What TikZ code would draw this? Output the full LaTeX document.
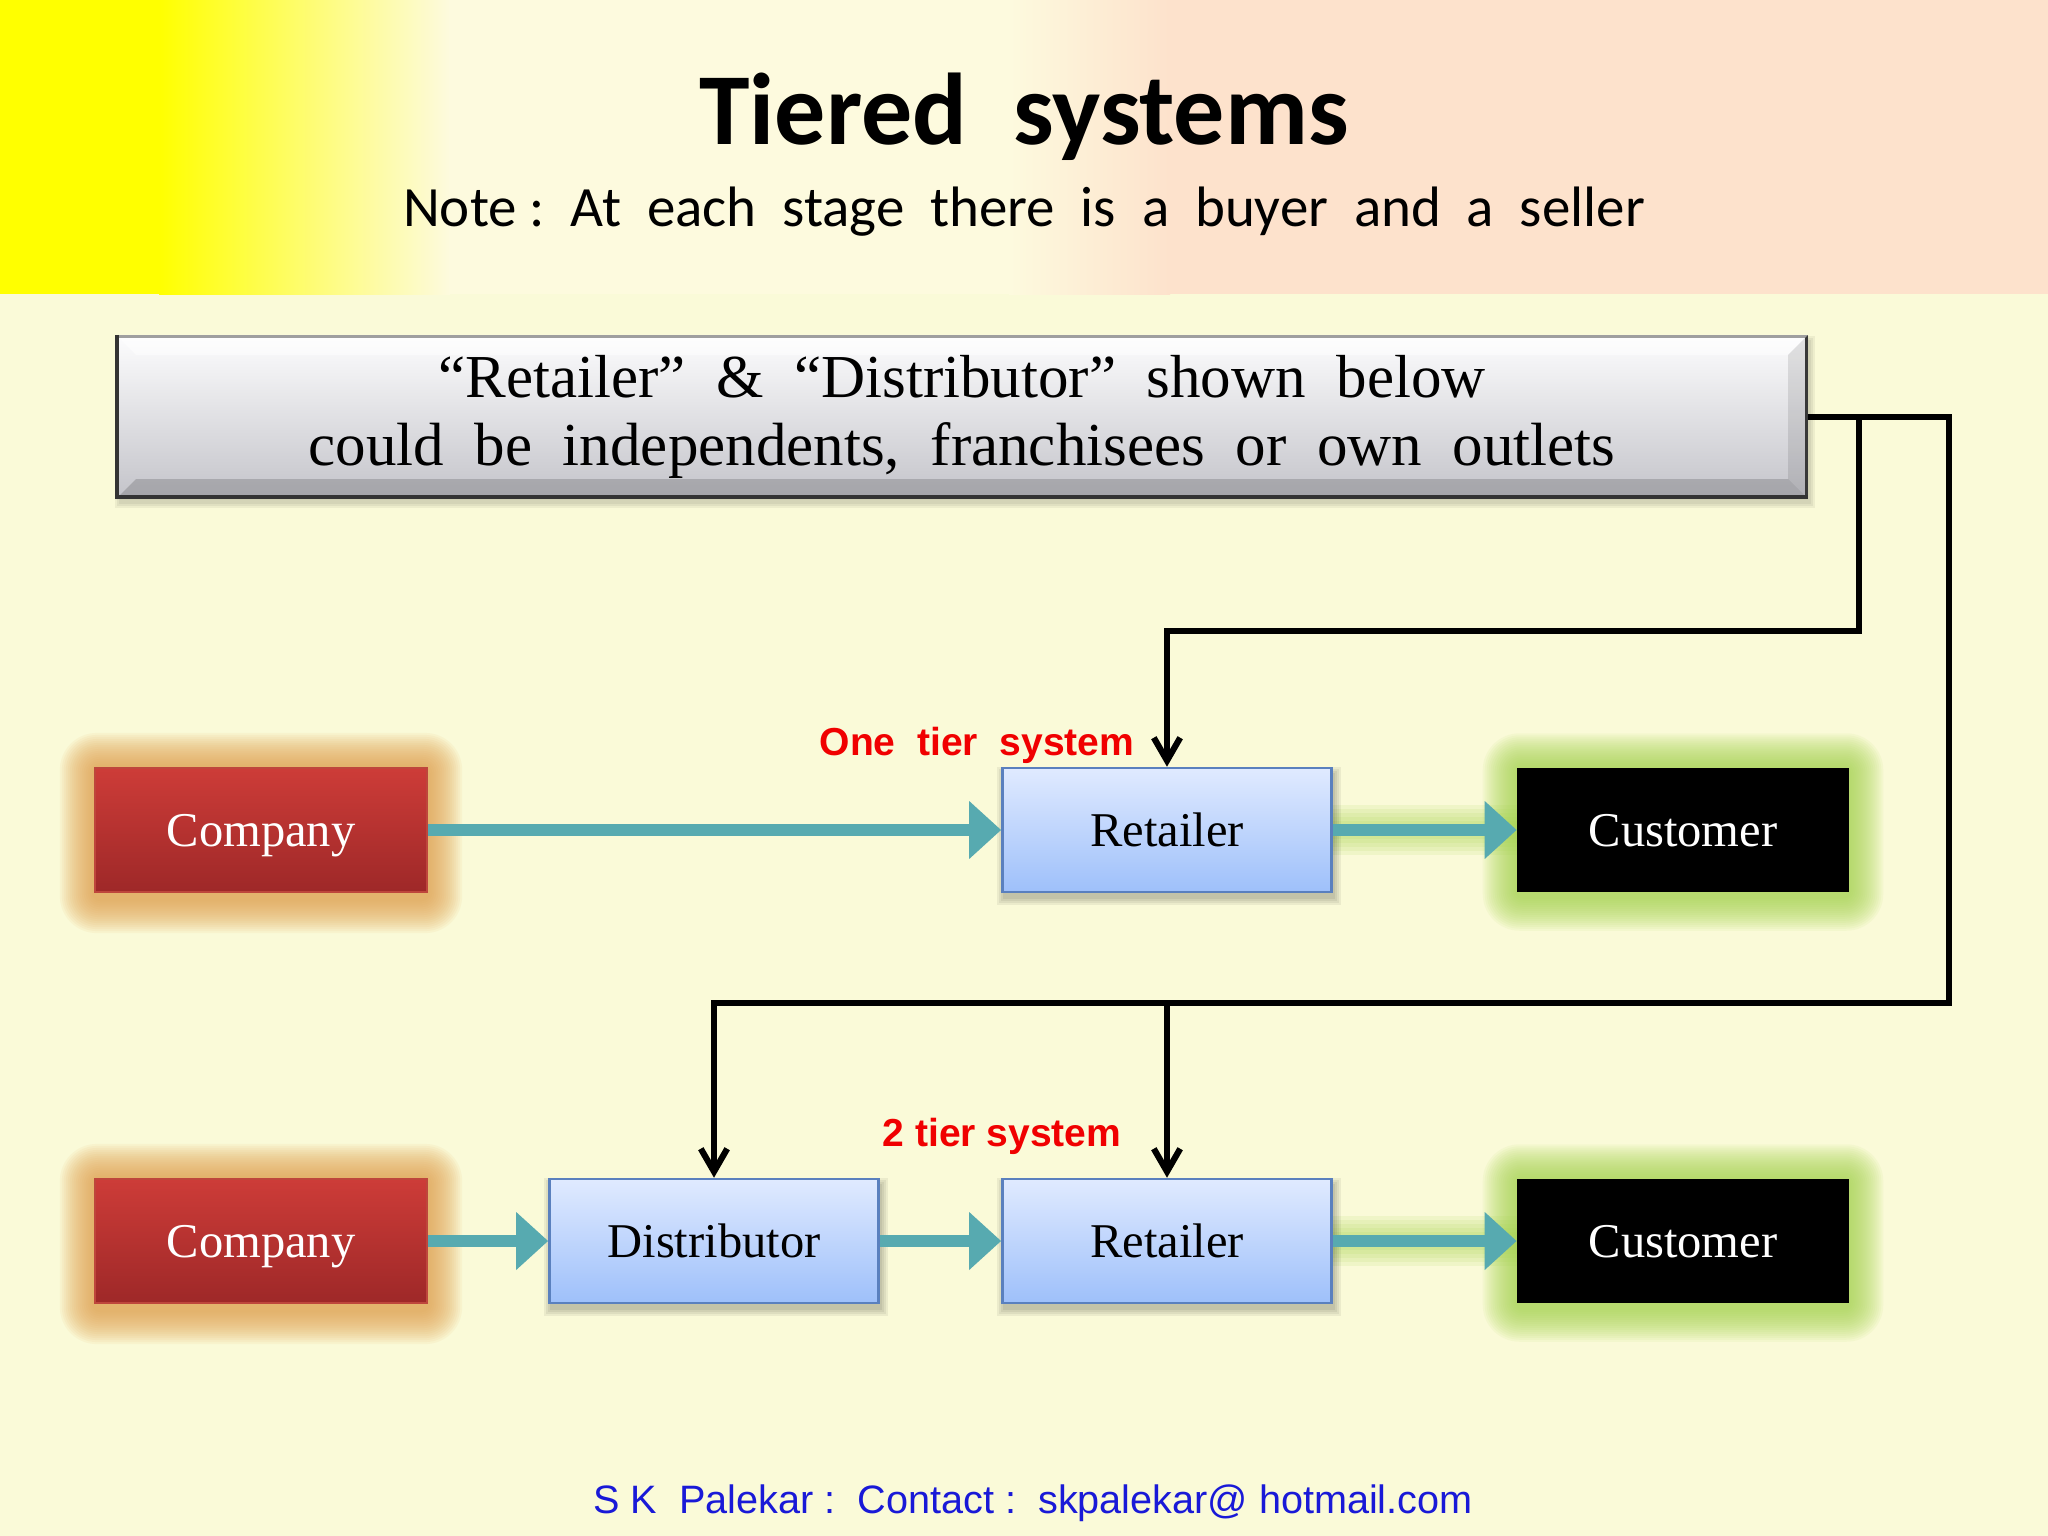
\documentclass[tikz,border=0pt]{standalone}
\usepackage{fontspec}
\setmainfont{Liberation Serif}
\newfontfamily\calfont{Carlito}
\newfontfamily\arialfont{Liberation Sans}
\usetikzlibrary{arrows.meta,calc}
\pgfdeclarelayer{bg}
\pgfsetlayers{bg,main}
\definecolor{bgc}{RGB}{250,250,216}
\definecolor{hyellow}{RGB}{255,255,0}
\definecolor{hcream}{RGB}{253,250,222}
\definecolor{hpeach}{RGB}{253,226,204}
\definecolor{tealc}{RGB}{87,170,176}
\definecolor{redtop}{RGB}{205,60,56}
\definecolor{redbot}{RGB}{158,40,40}
\definecolor{redline}{RGB}{190,70,60}
\definecolor{bluetop}{RGB}{224,234,255}
\definecolor{bluebot}{RGB}{158,192,250}
\definecolor{blueborder}{RGB}{90,128,190}
\definecolor{orangeglow}{RGB}{225,160,75}
\definecolor{greenglow}{RGB}{165,212,80}
\definecolor{footblue}{RGB}{25,25,215}
\definecolor{labred}{RGB}{240,0,0}
\definecolor{notetop}{RGB}{252,252,253}
\definecolor{notebot}{RGB}{196,196,202}
\tikzset{
  flowbox/.style={minimum width=3.29cm, minimum height=1.24cm, inner sep=0pt,
    text height=9.2pt, text depth=0pt, font=\fontsize{13.8pt}{16pt}\selectfont},
  companybox/.style={flowbox, top color=redtop, bottom color=redbot, draw=redline,
    line width=0.6pt, text=white, minimum width=3.32cm},
  bluebox/.style={flowbox, top color=bluetop, bottom color=bluebot, draw=blueborder, line width=0.7pt},
  custbox/.style={flowbox, fill=black, text=white, minimum width=3.31cm},
  notebox/.style={minimum width=16.88cm, minimum height=1.61cm, inner sep=0pt, align=center,
    top color=notetop, bottom color=notebot, draw=black!75, line width=0.9pt,
    font=\fontsize{17.35pt}{19.35pt}\selectfont},
  tealarrow/.style={draw=tealc, line width=3.4pt, -{Triangle[length=9.1pt,width=15.9pt]}},
  blackarrow/.style={draw=black, line width=1.75pt, line join=miter,
    -{Straight Barb[length=6.5pt,width=7.5pt]}},
  tierlabel/.style={font=\arialfont\bfseries\fontsize{11.1pt}{13pt}\selectfont, text=labred,
    anchor=base, inner sep=0pt},
}
\newcommand\glowaround[3]{% node, colour, extra bottom
  \foreach \r in {34,32,...,2} {
    \fill[#2, opacity=0.075, rounded corners=\r*0.25pt+2pt]
      ($(#1.north west)+(-\r,-\r)$) rectangle ($(#1.south east)+(\r,\r+#3)$);
  }
}
\newcommand\dropshadow[1]{%
  \foreach \r in {0,2,4,6} {
    \fill[black, opacity=0.06]
      ($(#1.north west)+(2-\r,6-\r)$) rectangle ($(#1.south east)+(2+\r,6+\r)$);
  }
}
\begin{document}
\begin{tikzpicture}[x=0.01cm,y=-0.01cm]
\useasboundingbox (0,0) rectangle (2048,1536);
\begin{pgfonlayer}{bg}
  \fill[bgc] (0,0) rectangle (2048,1536);
  \fill[hyellow] (0,0) rectangle (160,294);
  \shade[left color=hyellow,right color=hcream] (159,0) rectangle (450,294);
  \fill[hcream] (449,0) rectangle (1010,294);
  \shade[left color=hcream,right color=hpeach] (1009,0) rectangle (1170,294);
  \fill[hpeach] (1169,0) rectangle (2048,294);
\end{pgfonlayer}

% titles
\node[font=\calfont\bfseries\fontsize{29pt}{34pt}\selectfont, anchor=base, inner sep=0pt]
  (title) at (1024,144) {Tiered\ \ systems};
\node[font=\calfont\fontsize{16.2pt}{19pt}\selectfont, anchor=base, inner sep=0pt]
  (subtitle) at (1024,226) {Note :\ \ At\ \ each\ \ stage\ \ there\ \ is\ \ a\ \ buyer\ \ and\ \ a\ \ seller};

% note box
\node[notebox] (note) at (962,417) {“Retailer”\ \ \&\ \ “Distributor”\ \ shown\ \ below\\could\ \ be\ \ independents,\ \ franchisees\ \ or\ \ own\ \ outlets};
\fill[black, opacity=0.10] (note.north east) -- (note.south east) -- ($(note.south east)+(-20,-20)$) -- ($(note.north east)+(-20,20)$) -- cycle;
\fill[black, opacity=0.16] (note.south west) -- (note.south east) -- ($(note.south east)+(-20,-20)$) -- ($(note.south west)+(20,-20)$) -- cycle;
\fill[white, opacity=0.5] (note.north west) -- (note.north east) -- ($(note.north east)+(-20,20)$) -- ($(note.north west)+(20,20)$) -- cycle;
\draw[black!80, line width=1.1pt] ($(note.north west)+(1,0)$) -- ($(note.south west)+(1,-2)$) -- ($(note.south east)+(0,-2)$);

% boxes
\node[companybox] (comp1) at (261,830) {Company};
\node[bluebox] (ret1) at (1167,830) {Retailer};
\node[custbox] (cus1) at (1683,830) {Customer};
\node[companybox] (comp2) at (261,1241) {Company};
\node[bluebox] (dist) at (714,1241) {Distributor};
\node[bluebox] (ret2) at (1167,1241) {Retailer};
\node[custbox] (cus2) at (1683,1241) {Customer};

\begin{pgfonlayer}{bg}
  \foreach \r in {0,2,4} {
    \fill[black, opacity=0.05] ($(note.north west)+(3-\r,5-\r)$) rectangle ($(note.south east)+(3+\r,5+\r)$);
  }
  \glowaround{comp1}{orangeglow}{6}
  \glowaround{comp2}{orangeglow}{6}
  \glowaround{cus1}{greenglow}{4}
  \glowaround{cus2}{greenglow}{4}
  \foreach \w in {50,42,34,26,18} {
    \draw[greenglow, opacity=0.12, line width=\w*0.2845pt] (ret1.east) -- (cus1.west);
    \draw[greenglow, opacity=0.12, line width=\w*0.2845pt] (ret2.east) -- (cus2.west);
  }
  \dropshadow{ret1}
  \dropshadow{ret2}
  \dropshadow{dist}
\end{pgfonlayer}

% teal arrows
\draw[tealarrow] (comp1.east) -- (ret1.west);
\draw[tealarrow] (ret1.east) -- (cus1.west);
\draw[tealarrow] (comp2.east) -- (dist.west);
\draw[tealarrow] (dist.east) -- (ret2.west);
\draw[tealarrow] (ret2.east) -- (cus2.west);

% black connectors
\coordinate (cR) at (1949,417);
\coordinate (cRB) at (1949,1003);
\coordinate (cJ) at (1859,417);
\coordinate (cJB) at (1859,631);
\coordinate (cM) at (1167,1003);
\draw[blackarrow] (note.east) -- (cR) -- (cRB) -| (dist.north);
\draw[blackarrow] (cJ) -- (cJB) -| (ret1.north);
\draw[blackarrow] (cM) -- (ret2.north);

% labels
\node[tierlabel] (lab1) at (977,755) {One\ \ tier\ \ system};
\node[tierlabel] (lab2) at (1002,1146) {2 tier system};

% footer
\node[font=\arialfont\fontsize{11.27pt}{13.5pt}\selectfont, text=footblue, anchor=base, inner sep=0pt]
  (footer) at (1033,1513) {S K\ \ Palekar :\ \ Contact :\ \ skpalekar@ hotmail.com};
\end{tikzpicture}
\end{document}
